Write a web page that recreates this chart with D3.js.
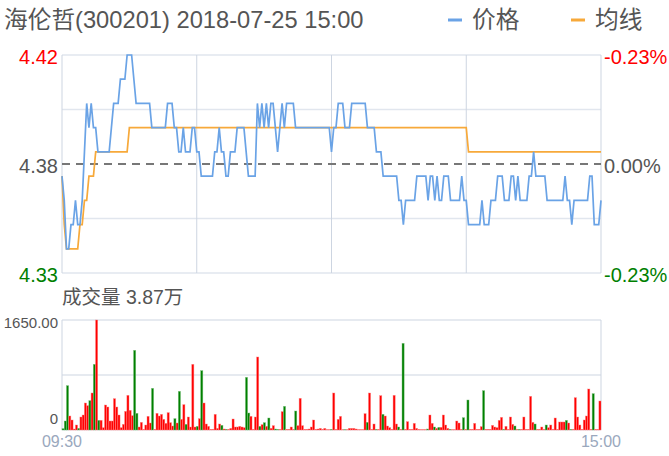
<!DOCTYPE html>
<html><head><meta charset="utf-8">
<script src="https://cdn.jsdelivr.net/npm/d3@7"></script>
<style>body{margin:0;background:#fff;} svg{display:block;font-family:"Liberation Sans",Arial,"Noto Sans CJK SC",sans-serif;}</style>
</head><body><svg id="c" width="669" height="456"></svg>
<script>
const title = "海伦哲(300201) 2018-07-25 15:00";
const legendLabels = ["价格", "均线"];
const timeLabels = ["09:30", "15:00"];
const priceTickLabels = ["4.42", "4.38", "4.33"];
const pctTickLabels = ["-0.23%", "0.00%", "-0.23%"];
const volTickLabels = ["1650.00", "0"];
const volumeLabel = "成交量 3.87万";
const prevClose = 4.375;
const priceDomain = [4.33, 4.42];
const volMax = 1650;

const price = [
4.37,4.36,4.34,4.34,4.35,4.35,4.36,4.35,4.35,4.36,
4.38,4.40,4.39,4.40,4.39,4.39,4.38,4.38,4.38,4.38,
4.38,4.38,4.39,4.40,4.40,4.40,4.41,4.41,4.41,4.42,
4.42,4.42,4.41,4.40,4.40,4.40,4.40,4.40,4.40,4.40,
4.39,4.39,4.39,4.39,4.39,4.39,4.39,4.40,4.40,4.40,
4.39,4.39,4.38,4.38,4.39,4.38,4.38,4.38,4.39,4.39,
4.38,4.38,4.37,4.37,4.37,4.37,4.37,4.37,4.38,4.38,
4.39,4.38,4.38,4.37,4.37,4.38,4.38,4.38,4.39,4.39,
4.39,4.39,4.38,4.37,4.37,4.37,4.37,4.40,4.39,4.40,
4.39,4.40,4.39,4.40,4.40,4.39,4.38,4.39,4.40,4.39,
4.40,4.40,4.40,4.40,4.39,4.39,4.39,4.39,4.39,4.39,
4.39,4.39,4.39,4.39,4.39,4.39,4.39,4.39,4.39,4.39,
4.38,4.39,4.39,4.40,4.40,4.40,4.39,4.39,4.39,4.40,
4.40,4.40,4.40,4.40,4.40,4.40,4.39,4.39,4.39,4.39,
4.38,4.38,4.38,4.37,4.37,4.37,4.37,4.37,4.37,4.37,
4.36,4.36,4.35,4.36,4.36,4.36,4.36,4.36,4.37,4.37,
4.37,4.37,4.37,4.36,4.37,4.37,4.36,4.37,4.36,4.36,
4.37,4.37,4.37,4.36,4.36,4.36,4.36,4.36,4.37,4.36,
4.36,4.35,4.35,4.35,4.35,4.35,4.35,4.36,4.35,4.35,
4.35,4.36,4.36,4.36,4.37,4.37,4.37,4.36,4.36,4.36,
4.37,4.37,4.36,4.37,4.36,4.36,4.36,4.36,4.37,4.37,
4.38,4.37,4.37,4.37,4.37,4.37,4.36,4.36,4.36,4.36,
4.36,4.36,4.36,4.36,4.37,4.36,4.36,4.35,4.36,4.36,
4.36,4.36,4.36,4.36,4.36,4.37,4.37,4.35,4.35,4.35,
4.36
];

const avgPrice = [
4.37,4.35,4.34,4.34,4.34,4.34,4.34,4.34,4.35,4.35,
4.36,4.36,4.37,4.37,4.37,4.38,4.38,4.38,4.38,4.38,
4.38,4.38,4.38,4.38,4.38,4.38,4.38,4.38,4.38,4.38,
4.39,4.39,4.39,4.39,4.39,4.39,4.39,4.39,4.39,4.39,
4.39,4.39,4.39,4.39,4.39,4.39,4.39,4.39,4.39,4.39,
4.39,4.39,4.39,4.39,4.39,4.39,4.39,4.39,4.39,4.39,
4.39,4.39,4.39,4.39,4.39,4.39,4.39,4.39,4.39,4.39,
4.39,4.39,4.39,4.39,4.39,4.39,4.39,4.39,4.39,4.39,
4.39,4.39,4.39,4.39,4.39,4.39,4.39,4.39,4.39,4.39,
4.39,4.39,4.39,4.39,4.39,4.39,4.39,4.39,4.39,4.39,
4.39,4.39,4.39,4.39,4.39,4.39,4.39,4.39,4.39,4.39,
4.39,4.39,4.39,4.39,4.39,4.39,4.39,4.39,4.39,4.39,
4.39,4.39,4.39,4.39,4.39,4.39,4.39,4.39,4.39,4.39,
4.39,4.39,4.39,4.39,4.39,4.39,4.39,4.39,4.39,4.39,
4.39,4.39,4.39,4.39,4.39,4.39,4.39,4.39,4.39,4.39,
4.39,4.39,4.39,4.39,4.39,4.39,4.39,4.39,4.39,4.39,
4.39,4.39,4.39,4.39,4.39,4.39,4.39,4.39,4.39,4.39,
4.39,4.39,4.39,4.39,4.39,4.39,4.39,4.39,4.39,4.39,
4.39,4.38,4.38,4.38,4.38,4.38,4.38,4.38,4.38,4.38,
4.38,4.38,4.38,4.38,4.38,4.38,4.38,4.38,4.38,4.38,
4.38,4.38,4.38,4.38,4.38,4.38,4.38,4.38,4.38,4.38,
4.38,4.38,4.38,4.38,4.38,4.38,4.38,4.38,4.38,4.38,
4.38,4.38,4.38,4.38,4.38,4.38,4.38,4.38,4.38,4.38,
4.38,4.38,4.38,4.38,4.38,4.38,4.38,4.38,4.38,4.38,
4.38
];

const volume = [
20,135,665,210,150,15,75,25,195,225,
405,365,440,555,985,1650,145,145,35,375,
345,135,135,470,345,225,35,85,280,520,
295,215,1195,250,45,115,10,75,205,105,
625,10,250,210,235,160,100,260,110,60,
170,105,580,160,380,85,195,45,985,45,
55,170,890,405,90,55,10,10,235,25,
90,70,15,10,10,25,165,45,45,55,
45,35,790,255,205,10,195,1095,55,80,
110,55,180,25,65,15,10,10,275,355,
10,10,45,10,285,65,475,65,10,10,
15,45,150,10,15,25,10,25,5,5,
10,555,10,160,205,5,5,5,25,25,
25,15,5,5,5,245,115,555,10,90,
10,10,515,235,210,60,35,10,520,90,
45,10,1300,10,125,10,10,100,25,10,
5,5,5,15,225,100,45,25,40,40,
225,75,25,10,5,5,135,105,10,185,
10,450,10,10,100,10,10,50,590,10,
10,10,70,45,35,145,190,10,55,10,
195,85,60,10,10,10,195,10,10,505,
115,90,10,10,45,10,75,35,75,10,
180,10,120,120,120,145,105,10,10,485,
195,75,10,150,210,615,10,545,10,10,
435
];

const svg = d3.select("#c");
const L = 62, R = 601, PT = 55, PB = 273, VT = 320, VB = 430;
const n = price.length;
const x = d3.scaleLinear().domain([0, n - 1]).range([L, R]);
const xb = d3.scaleBand().domain(d3.range(n)).range([L, R]).paddingInner(0.05);
const y = d3.scaleLinear().domain(priceDomain).range([PB, PT]);
const yv = d3.scaleLinear().domain([0, volMax]).range([VB, VT]);

const hGrid = "#e1e6ee", vGrid = "#cdd5e1";
const q = (priceDomain[1] - priceDomain[0]) / 4;
[priceDomain[0], priceDomain[0] + q, priceDomain[1] - q, priceDomain[1]].forEach(v => {
  svg.append("line").attr("x1", L).attr("x2", R).attr("y1", y(v)).attr("y2", y(v))
    .attr("stroke", hGrid).attr("stroke-width", 1.5);
});
[60, 120, 180].forEach(i => {
  svg.append("line").attr("x1", x(i)).attr("x2", x(i)).attr("y1", PT).attr("y2", PB)
    .attr("stroke", vGrid).attr("stroke-width", 1);
});
svg.append("line").attr("x1", L).attr("x2", L).attr("y1", PT).attr("y2", PB).attr("stroke", vGrid);
svg.append("line").attr("x1", R).attr("x2", R).attr("y1", PT).attr("y2", PB).attr("stroke", vGrid);
svg.append("line").attr("x1", L).attr("x2", R).attr("y1", y(prevClose)).attr("y2", y(prevClose))
  .attr("stroke", "#777").attr("stroke-width", 2).attr("stroke-dasharray", "8,6");

svg.append("path").datum(avgPrice)
  .attr("d", d3.line().x((d, i) => x(i)).y(d => y(d)))
  .attr("fill", "none").attr("stroke", "#f7a93a").attr("stroke-width", 1.7);
svg.append("path").datum(price)
  .attr("d", d3.line().x((d, i) => x(i)).y(d => y(d)))
  .attr("fill", "none").attr("stroke", "#6aa3e6").attr("stroke-width", 1.7);

const tickVals = [priceDomain[1], prevClose, priceDomain[0]];
const tickColors = ["#ff0000", "#555", "#008000"];
tickVals.forEach((v, k) => {
  svg.append("text").attr("x", 58).attr("y", y(v) + 2).attr("text-anchor", "end")
    .attr("dominant-baseline", "central").attr("font-size", 20).attr("fill", tickColors[k])
    .text(priceTickLabels[k]);
  svg.append("text").attr("x", 604).attr("y", y(v) + 2).attr("text-anchor", "start")
    .attr("dominant-baseline", "central").attr("font-size", 20).attr("fill", tickColors[k])
    .text(pctTickLabels[k]);
});

[volMax, volMax / 2].forEach(v => {
  svg.append("line").attr("x1", L).attr("x2", R).attr("y1", yv(v)).attr("y2", yv(v))
    .attr("stroke", vGrid).attr("stroke-width", 1.2);
});
svg.append("line").attr("x1", L).attr("x2", R).attr("y1", VB).attr("y2", VB).attr("stroke", hGrid);
svg.append("line").attr("x1", L).attr("x2", L).attr("y1", VT).attr("y2", VB).attr("stroke", vGrid);
svg.append("line").attr("x1", R).attr("x2", R).attr("y1", VT).attr("y2", VB).attr("stroke", vGrid);

const up = i => !(price[i] < (i === 0 ? prevClose : price[i - 1]));
svg.append("g").selectAll("rect").data(volume).join("rect")
  .attr("x", (d, i) => xb(i)).attr("width", xb.bandwidth())
  .attr("y", d => yv(d)).attr("height", d => VB - yv(d))
  .attr("fill", (d, i) => up(i) ? "#ff0000" : "#008000")
  .attr("stroke", (d, i) => up(i) ? "rgba(255,130,130,0.7)" : "rgba(120,190,120,0.7)")
  .attr("stroke-width", 0.6);

svg.append("text").attr("x", 58).attr("y", yv(volMax) + 2).attr("text-anchor", "end")
  .attr("dominant-baseline", "central").attr("font-size", 15).attr("fill", "#555").text(volTickLabels[0]);
svg.append("text").attr("x", 58).attr("y", VB - 12).attr("text-anchor", "end")
  .attr("dominant-baseline", "central").attr("font-size", 15).attr("fill", "#555").text(volTickLabels[1]);
svg.append("text").attr("x", 62).attr("y", 297).attr("dominant-baseline", "central")
  .attr("font-size", 19.5).attr("fill", "#555").text(volumeLabel);

svg.append("text").attr("x", L).attr("y", 441).attr("text-anchor", "middle")
  .attr("dominant-baseline", "central").attr("font-size", 16).attr("fill", "#9aa8bd").text(timeLabels[0]);
svg.append("text").attr("x", R).attr("y", 441).attr("text-anchor", "middle")
  .attr("dominant-baseline", "central").attr("font-size", 16).attr("fill", "#9aa8bd").text(timeLabels[1]);

svg.append("text").attr("x", 4).attr("y", 20).attr("dominant-baseline", "central")
  .attr("font-size", 23.7).attr("fill", "#555").text(title);
const legColors = ["#6aa3e6", "#f7a93a"];
const legX = [448, 571];
legendLabels.forEach((lab, k) => {
  svg.append("line").attr("x1", legX[k]).attr("x2", legX[k] + 14).attr("y1", 20).attr("y2", 20)
    .attr("stroke", legColors[k]).attr("stroke-width", 3);
  svg.append("text").attr("x", legX[k] + 24).attr("y", 20).attr("dominant-baseline", "central")
    .attr("font-size", 23.7).attr("fill", "#555").text(lab);
});
</script></body></html>
